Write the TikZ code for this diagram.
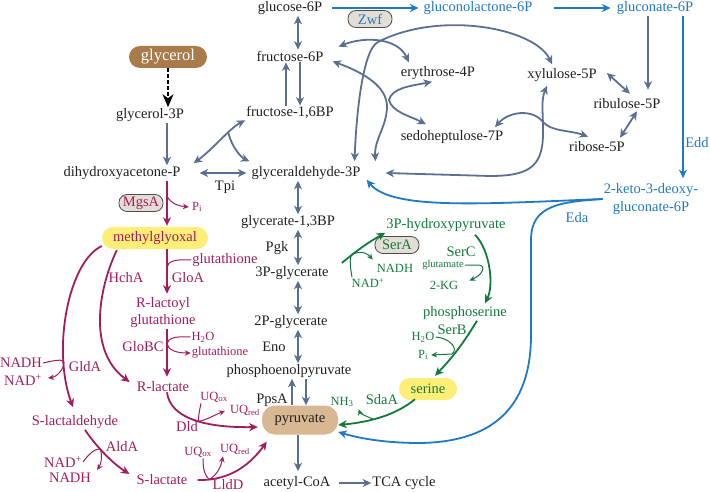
\documentclass[tikz,border=0pt]{standalone}
\usepackage{fontspec}
\setmainfont{Liberation Serif}
\usetikzlibrary{arrows.meta}
\definecolor{inkblack}{HTML}{231F20}
\definecolor{pathgray}{HTML}{5B6F93}
\definecolor{pppblue}{HTML}{1F78C8}
\definecolor{mgred}{HTML}{A21C5E}
\definecolor{sergreen}{HTML}{137A3B}
\definecolor{glybrown}{HTML}{A97B4B}
\definecolor{pyrtan}{HTML}{D8B892}
\definecolor{hiyellow}{HTML}{FDEE78}
\definecolor{enzfill}{HTML}{E3DED5}

\begin{document}
\begin{tikzpicture}[x=1pt,y=-1pt,>={Stealth[length=8.5pt,width=8pt,inset=2.5pt]},
  met/.style={text=inkblack,font=\fontsize{14.5}{15}\selectfont,inner sep=1pt},
  lab/.style={met},
  cof/.style={font=\fontsize{12.5}{14}\selectfont,inner sep=1pt},
  tinylab/.style={font=\fontsize{10.5}{12}\selectfont,inner sep=1pt},
  oval/.style={draw=inkblack!80,line width=0.8pt,fill=enzfill,rounded corners=8pt,minimum width=44pt,minimum height=17pt,inner sep=1pt,font=\fontsize{14.5}{15}\selectfont},
  hibox/.style={fill=#1,rounded corners=11pt,minimum height=22pt,inner sep=2pt,font=\fontsize{14.5}{15}\selectfont},
  garr/.style={draw=pathgray,line width=1.8pt},
  barr/.style={draw=pppblue,line width=1.8pt},
  marr/.style={draw=mgred,line width=1.8pt},
  sarr/.style={draw=sergreen,line width=1.8pt},
  side/.style={line width=1pt,>={Stealth[length=6pt,width=5.5pt,inset=2pt]}}]
  \useasboundingbox (0,0) rectangle (710,492);
  \coordinate (col) at (298,0);
  \coordinate (colL) at (292,0);
  \coordinate (colR) at (306,0);

  \node[met] (g6p) at (290,8) {glucose-6P};
  \node[met] (f6p) at (290,56) {fructose-6P};
  \node[met] (fbp) at (290,113) {fructose-1,6BP};
  \node[hibox=glybrown,text=white,minimum width=78pt,font=\fontsize{16.5}{17}\selectfont] (glycerol) at (168,57) {glycerol};
  \node[met] (glp) at (150,115) {glycerol-3P};
  \node[met] (dhap) at (122,173) {dihydroxyacetone-P};
  \node[met] (gap) at (306,173) {glyceraldehyde-3P};
  \node[met] (bpg) at (288,222) {glycerate-1,3BP};
  \node[met] (pga3) at (292,273) {3P-glycerate};
  \node[met] (pga2) at (291,322) {2P-glycerate};
  \node[met] (pep) at (289,371) {phosphoenolpyruvate};
  \node[hibox=pyrtan,text=inkblack,minimum width=76pt,minimum height=29pt,rounded corners=13pt] (pyr) at (300,420) {pyruvate};
  \node[met] (accoa) at (297,483) {acetyl-CoA};
  \node[met] (tca) at (404,483) {TCA cycle};

  \node[met] (e4p) at (438,73) {erythrose-4P};
  \node[met] (x5p) at (562,75) {xylulose-5P};
  \node[met] (ru5p) at (627,104) {ribulose-5P};
  \node[met] (s7p) at (452,137) {sedoheptulose-7P};
  \node[met] (r5p) at (597,147) {ribose-5P};
  \node[met,text=pppblue] (gl6p) at (478,8) {gluconolactone-6P};
  \node[met,text=pppblue] (gnt6p) at (655,8) {gluconate-6P};
  \node[met,text=pppblue,align=center,font=\fontsize{14.5}{18}\selectfont] (kdpg) at (651,199) {2-keto-3-deoxy-\\gluconate-6P};
  \node[oval,text=pppblue] (zwf) at (370,19) {Zwf};

  \node[met,text=sergreen] (hpyr) at (446,225) {3P-hydroxypyruvate};
  \node[met,text=sergreen] (pser) at (465,313) {phosphoserine};
  \node[hibox=hiyellow,text=sergreen,minimum width=58pt] (ser) at (428,389) {serine};
  \node[oval,text=sergreen] (sera) at (397,245) {SerA};

  \node[hibox=hiyellow,text=mgred,minimum width=106pt] (mg) at (155,238) {methylglyoxal};
  \node[met,text=mgred,align=center,font=\fontsize{14.5}{17}\selectfont] (rlg) at (163,313) {R-lactoyl\\glutathione};
  \node[met,text=mgred] (rlac) at (163,387) {R-lactate};
  \node[met,text=mgred] (slald) at (75,422) {S-lactaldehyde};
  \node[met,text=mgred] (slac) at (162,480) {S-lactate};
  \node[oval,text=mgred] (mgsa) at (141,203) {MgsA};

  \node[lab] (tpi) at (225,187) {Tpi};
  \node[lab] (pgk) at (277,248) {Pgk};
  \node[lab] (eno) at (274,347) {Eno};
  \node[lab] (ppsa) at (272,400) {PpsA};
  \node[lab,text=pppblue] (edd) at (697,143) {Edd};
  \node[lab,text=pppblue] (eda) at (577,218) {Eda};
  \node[lab,text=sergreen] (serc) at (461,252) {SerC};
  \node[lab,text=sergreen] (serb) at (452,330) {SerB};
  \node[lab,text=sergreen] (sdaa) at (382,400) {SdaA};
  \node[lab,text=mgred] (hcha) at (126,278) {HchA};
  \node[lab,text=mgred] (gloa) at (188,278) {GloA};
  \node[lab,text=mgred] (globc) at (143,347) {GloBC};
  \node[lab,text=mgred] (glda) at (85,367) {GldA};
  \node[lab,text=mgred] (alda) at (122,447) {AldA};
  \node[lab,text=mgred] (dld) at (187,427) {Dld};
  \node[lab,text=mgred] (lldd) at (228,485) {LldD};

  \node[cof,text=sergreen] (nadhs) at (395,268) {NADH};
  \node[cof,text=sergreen] (nads) at (368,283) {NAD\textsuperscript{+}};
  \node[tinylab,text=sergreen] (glu) at (443,265) {glutamate};
  \node[cof,text=sergreen] (akg) at (444,285) {2-KG};
  \node[cof,text=sergreen] (h2os) at (423,337) {H\textsubscript{2}O};
  \node[cof,text=sergreen] (pis) at (423,355) {P\textsubscript{i}};
  \node[cof,text=sergreen] (nh3) at (342,402) {NH\textsubscript{3}};
  \node[cof,text=mgred] (pim) at (197,207) {P\textsubscript{i}};
  \node[met,text=mgred] (glut1) at (225,260) {glutathione};
  \node[cof,text=mgred] (h2om) at (203,337) {H\textsubscript{2}O};
  \node[cof,text=mgred] (glut2) at (220,353) {glutathione};
  \node[met,text=mgred] (nadhm) at (21,363) {NADH};
  \node[met,text=mgred] (nadm) at (23,380) {NAD\textsuperscript{+}};
  \node[met,text=mgred] (nadm2) at (63,462) {NAD\textsuperscript{+}};
  \node[met,text=mgred] (nadhm2) at (70,478) {NADH};
  \node[cof,text=mgred] (uqox1) at (214,397) {UQ\textsubscript{ox}};
  \node[cof,text=mgred] (uqred1) at (245,410) {UQ\textsubscript{red}};
  \node[cof,text=mgred] (uqox2) at (198,452) {UQ\textsubscript{ox}};
  \node[cof,text=mgred] (uqred2) at (235,449) {UQ\textsubscript{red}};

  \draw[line width=1.5pt,dash pattern=on 3.5pt off 2.5pt,-{Stealth[length=13pt,width=11pt,inset=4pt]}] (glycerol.south) -- ([xshift=18pt]glp.north);
  \draw[garr,->] ([xshift=17pt]glp.south) -- ([xshift=45pt]dhap.north);
  \draw[garr,<->] (g6p.south -| col) -- (f6p.north -| col);
  \draw[garr,->] ([xshift=10pt]f6p.south) -- ([xshift=10pt]fbp.north);
  \draw[garr,->] ([xshift=-4pt]fbp.north) -- ([xshift=-4pt]f6p.south);
  \draw[garr,<->] ([xshift=12pt,yshift=2pt]dhap.north east) .. controls (212,150) and (230,128) .. (fbp.south west) coordinate[pos=0.65] (aldj);
  \draw[garr,->] (aldj) .. controls (232,148) and (242,158) .. ([xshift=-1pt,yshift=4pt]gap.north west);
  \draw[garr,<->] ([xshift=18pt]dhap.east) -- ([xshift=-4pt]gap.west);
  \draw[garr,<->] (gap.south -| col) -- (bpg.north -| col);
  \draw[garr,<->] (bpg.south -| col) -- (pga3.north -| col);
  \draw[garr,<->] (pga3.south -| col) -- (pga2.north -| col);
  \draw[garr,<->] (pga2.south -| col) -- (pep.north -| col);
  \draw[garr,->] (pyr.north -| colL) -- (pep.south -| colL);
  \draw[garr,->] (pep.south -| colR) -- (pyr.north -| colR);
  \draw[garr,->] (pyr.south -| col) -- ([yshift=4pt]accoa.north -| col);
  \draw[garr,->] ([xshift=7pt]accoa.east) -- (tca.west);

  \draw[garr,<->] ([xshift=14pt,yshift=3pt]f6p.north east) .. controls (365,36) and (398,38) .. ([xshift=9pt,yshift=3pt]e4p.north west);
  \draw[garr,<->] ([xshift=-10pt,yshift=3pt]x5p.north) .. controls (535,28) and (440,10) .. (378,42) .. controls (362,50) and (356,120) .. ([xshift=-7pt,yshift=4pt]gap.north east);
  \draw[garr,<->] ([xshift=8pt,yshift=1pt]f6p.south east) .. controls (362,72) and (388,86) .. (387,108) .. controls (386,128) and (374,140) .. ([xshift=14pt,yshift=4pt]gap.north east);
  \draw[garr,<->] ([xshift=-6pt,yshift=-1pt]e4p.south) .. controls (410,86) and (392,88) .. (389,100) .. controls (392,112) and (410,116) .. ([xshift=-26pt,yshift=5pt]s7p.north);
  \draw[garr,<->] ([xshift=-15pt,yshift=-3pt]x5p.south) .. controls (541,100) and (543,112) .. (543,128) .. controls (544,165) and (532,176) .. (490,176) -- ([xshift=24pt]gap.east);
  \draw[garr,<->] ([xshift=43pt,yshift=2pt]s7p.north) .. controls (508,112) and (532,108) .. (543,122) .. controls (552,132) and (570,130) .. ([xshift=-9pt,yshift=4pt]r5p.north);
  \draw[garr,<->] ([xshift=9pt,yshift=2pt]x5p.east) -- ([xshift=3pt,yshift=4pt]ru5p.north);
  \draw[garr,<->] ([xshift=10pt,yshift=-1pt]ru5p.south) -- ([xshift=23pt,yshift=3pt]r5p.north);
  \draw[garr,->] ([xshift=-7pt]gnt6p.south) -- ([xshift=21pt,yshift=8pt]ru5p.north);

  \draw[barr,->] ([xshift=9pt]g6p.east) -- ([xshift=-4pt]gl6p.west);
  \draw[barr,->] ([xshift=20pt]gl6p.east) -- ([xshift=-5pt]gnt6p.west);
  \draw[barr,->] ([xshift=28pt]gnt6p.south) -- ([xshift=32pt,yshift=4pt]kdpg.north);
  \draw[barr,->] (kdpg.west) .. controls (480,204) and (392,210) .. ([xshift=5pt,yshift=1pt]gap.south east);
  \draw[barr,->] (kdpg.west) .. controls (560,202) and (531,205) .. (531,240) -- (531,335) .. controls (531,410) and (490,442) .. (420,443) .. controls (380,443) and (355,437) .. ([yshift=-12pt]pyr.east);

  \draw[sarr,->] ([xshift=12pt,yshift=10pt]pga3.east) to[bend left=5] coordinate[pos=0.25] (seraj) (hpyr.south west);
  \draw[sarr,side,->] ([xshift=-16pt]nads.north) .. controls (350,266) and (349,255) .. (seraj) .. controls (362,250) and (368,254) .. ([xshift=-3pt,yshift=3pt]nadhs.north west);
  \draw[sarr,->] ([xshift=29pt,yshift=-2pt]hpyr.south) .. controls (490,250) and (494,285) .. ([xshift=20pt,yshift=2pt]pser.north);
  \draw[sarr,side,->] (glu.east) -- (478,265) .. controls (486,265) and (484,274) .. ([xshift=10pt,yshift=-1pt]akg.north east);
  \draw[sarr,->] ([xshift=12pt]pser.south) to[bend left=6] ([xshift=7pt,yshift=2pt]ser.north);
  \draw[sarr,side,->] (h2os.east) .. controls (450,338) and (459,349) .. (452,354) -- ([xshift=2pt]pis.east);
  \draw[sarr,->] ([xshift=-13pt,yshift=1pt]ser.south) .. controls (396,415) and (370,422) .. ([yshift=-5pt]pyr.east) coordinate[pos=0.6] (sdaj);
  \draw[sarr,side,->] (sdaj) .. controls (365,416) and (360,413) .. ([xshift=4pt,yshift=-1pt]nh3.south east);

  \draw[marr,->] ([xshift=45pt]dhap.south) -- coordinate[pos=0.35] (mgsj) ([xshift=12pt,yshift=1pt]mg.north);
  \draw[marr,side,->] (mgsj) .. controls (172,204) and (178,206) .. ([xshift=-2pt]pim.west);
  \draw[marr,->] ([xshift=12pt]mg.south) -- coordinate[pos=0.4] (gloaj) ([xshift=4pt,yshift=3pt]rlg.north);
  \draw[marr,side] (glut1.west) .. controls (176,259) and (168,261) .. (gloaj);
  \draw[marr,->] ([xshift=4pt]rlg.south) -- coordinate[pos=0.3] (globj) ([xshift=4pt,yshift=4pt]rlac.north);
  \draw[marr,side,->] (h2om.west) .. controls (176,336) and (168,338) .. (globj) .. controls (168,350) and (176,353) .. (glut2.west);
  \draw[marr,->] ([xshift=15pt,yshift=-1pt]mg.south west) .. controls (100,285) and (86,350) .. ([xshift=-6pt,yshift=5pt]rlac.west);
  \draw[marr,->] ([yshift=-8pt]mg.west) .. controls (68,262) and (52,350) .. ([xshift=-2pt,yshift=7pt]slald.north) coordinate[pos=0.76] (gldj);
  \draw[marr,side,->] (nadhm.east) .. controls (56,360) and (62,359) .. (gldj) .. controls (64,370) and (56,377) .. ([xshift=5pt,yshift=2pt]nadm.east);
  \draw[marr,->] ([xshift=10pt]slald.south) .. controls (95,445) and (112,463) .. ([xshift=-6pt,yshift=6pt]slac.west) coordinate[pos=0.4] (aldj2);
  \draw[marr,side,->] (nadm2.east) .. controls (88,455) and (94,449) .. (aldj2) .. controls (103,456) and (101,464) .. ([xshift=5pt,yshift=2pt]nadhm2.north east);
  \draw[marr,->] ([xshift=4pt,yshift=1pt]rlac.south) .. controls (170,418) and (205,428) .. ([xshift=-4pt,yshift=-7pt]pyr.west) coordinate[pos=0.55] (dldj);
  \draw[marr,side,->] ([xshift=-13pt]uqox1.south) .. controls (199,412) and (198,420) .. (dldj) .. controls (207,420) and (212,416) .. ([xshift=-4pt,yshift=-1pt]uqred1.west);
  \draw[marr,->] ([xshift=9pt]slac.east) .. controls (232,481) and (252,462) .. ([xshift=5pt,yshift=-7pt]pyr.south west) coordinate[pos=0.12] (lldj);
  \draw[marr,side,->] ([xshift=5pt]uqox2.south) .. controls (203,470) and (205,476) .. (lldj) .. controls (218,474) and (221,466) .. ([xshift=-12pt,yshift=-1pt]uqred2.south);
\end{tikzpicture}
\end{document}
